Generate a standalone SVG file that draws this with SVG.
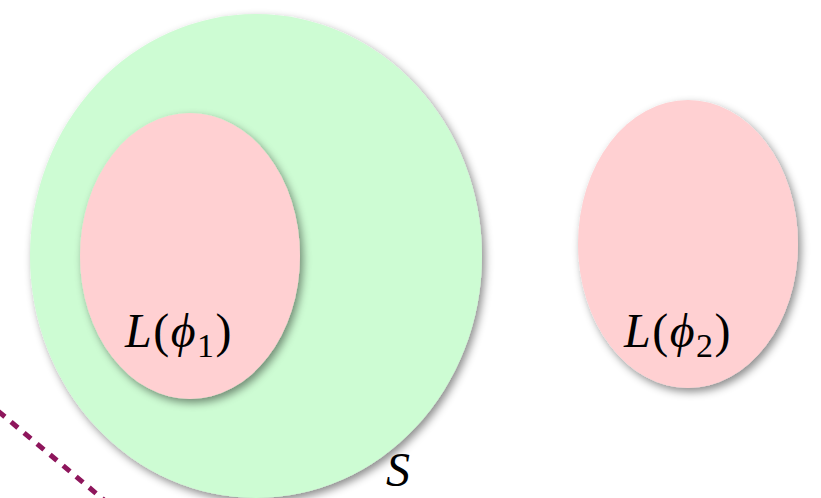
<svg xmlns="http://www.w3.org/2000/svg" width="821" height="498" viewBox="0 0 821 498">
<defs>
<filter id="sh" x="-10%" y="-10%" width="125%" height="125%">
<feDropShadow dx="3" dy="4" stdDeviation="4" flood-color="#000" flood-opacity="0.45"/>
</filter>
</defs>
<style>
text{font-family:"Liberation Serif","Times New Roman",serif;font-size:48px;fill:#000}
.i{font-style:italic}
.sub{font-size:34px}
</style>
<rect width="821" height="498" fill="#fff"/>
<g id="connectors">
<line x1="-2" y1="411" x2="104" y2="500" stroke="#8E165C" stroke-width="5" stroke-dasharray="9,8"/>
</g>
<g id="S">
<ellipse cx="256" cy="256" rx="226" ry="242" fill="#CDFCD3" filter="url(#sh)"/>
<text class="i" x="386" y="486">S</text>
</g>
<g id="L1">
<ellipse cx="190" cy="256" rx="110" ry="143" fill="#FFD0D2" filter="url(#sh)"/>
<text x="125" y="347" letter-spacing="1.5"><tspan class="i">L</tspan>(<tspan class="i">ϕ</tspan><tspan class="sub" dy="10">1</tspan><tspan dy="-10">)</tspan></text>
</g>
<g id="L2">
<ellipse cx="688" cy="244" rx="110" ry="144" fill="#FFD0D2" filter="url(#sh)"/>
<text x="624" y="347" letter-spacing="1.5"><tspan class="i">L</tspan>(<tspan class="i">ϕ</tspan><tspan class="sub" dy="10">2</tspan><tspan dy="-10">)</tspan></text>
</g>
</svg>
